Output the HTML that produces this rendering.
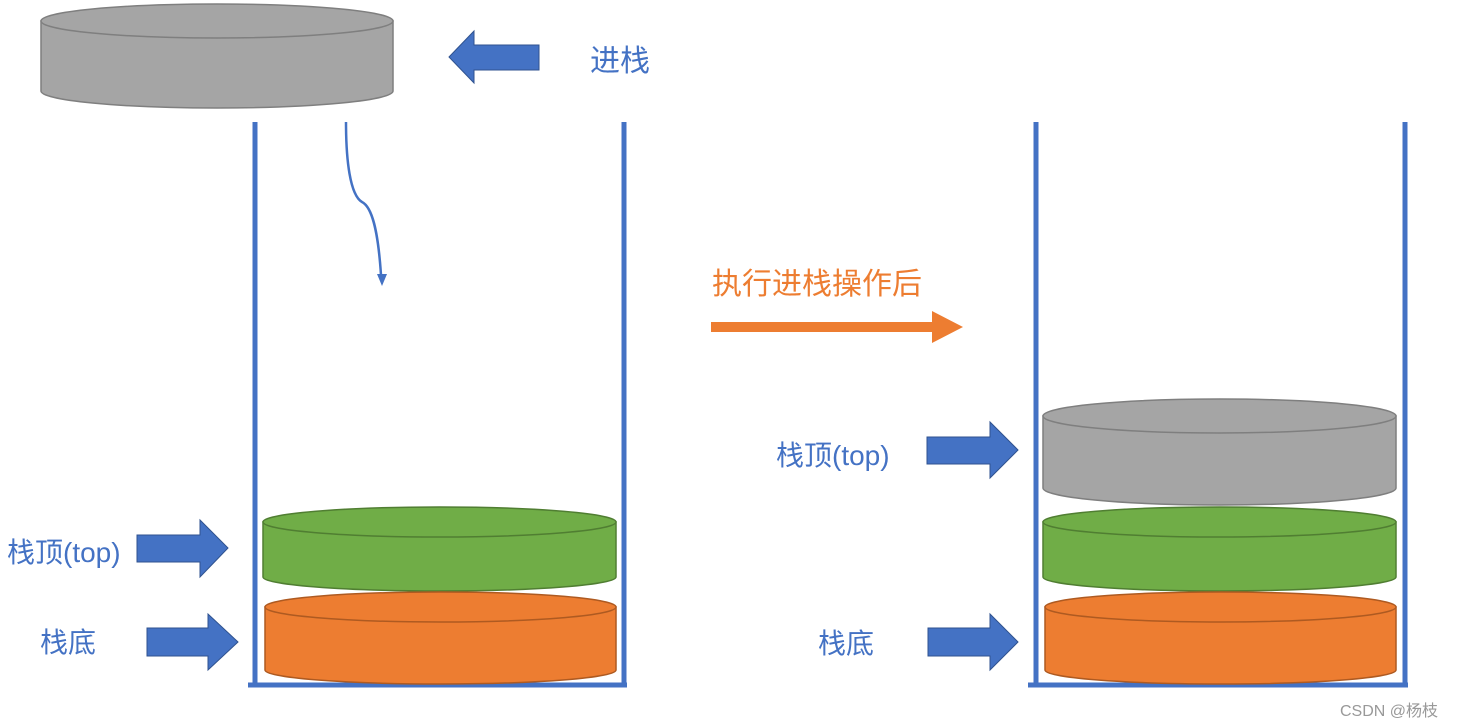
<!DOCTYPE html>
<html><head><meta charset="utf-8"><style>
html,body{margin:0;padding:0;background:#fff;}
svg{display:block;}
text{font-family:"Liberation Sans","Noto Sans CJK SC",sans-serif;}
</style></head><body>
<svg width="1467" height="728" viewBox="0 0 1467 728" xmlns="http://www.w3.org/2000/svg">
<defs>
<g id="cyl"></g>
</defs>
<!-- top gray cylinder -->
<path d="M41,21 L41,91 A176,17 0 0 0 393,91 L393,21 Z" fill="#a5a5a5" stroke="#7f7f7f" stroke-width="1.5"/>
<ellipse cx="217" cy="21" rx="176" ry="17" fill="#a5a5a5" stroke="#7f7f7f" stroke-width="1.5"/>
<!-- left arrow -->
<polygon points="449,57 474,31 474,45 539,45 539,70 474,70 474,83" fill="#4472c4" stroke="#2f528f" stroke-width="1"/>
<text x="590" y="71" font-size="30" fill="#4472c4">进栈</text>

<!-- left container -->
<g stroke="#4472c4" stroke-width="5" fill="none">
<line x1="255" y1="122" x2="255" y2="687"/>
<line x1="624" y1="122" x2="624" y2="687"/>
<line x1="248" y1="685" x2="627" y2="685"/>
<line x1="1036" y1="122" x2="1036" y2="687"/>
<line x1="1405" y1="122" x2="1405" y2="687"/>
<line x1="1028" y1="685" x2="1408" y2="685"/>
</g>
<!-- curvy arrow -->
<path d="M346,122 C346,160 350,195 362,202 C372,207 378,230 381,275" stroke="#4472c4" stroke-width="2.5" fill="none"/>
<polygon points="377,274 387,274 382,286" fill="#4472c4"/>

<!-- left green -->
<path d="M263,522 L263,577 A176.5,14 0 0 0 616,577 L616,522 Z" fill="#70ad47" stroke="#507e32" stroke-width="1.5"/>
<ellipse cx="439.5" cy="522" rx="176.5" ry="15" fill="#70ad47" stroke="#507e32" stroke-width="1.5"/>
<!-- left orange -->
<path d="M265,607 L265,670 A175.5,14 0 0 0 616,670 L616,607 Z" fill="#ed7d31" stroke="#ae5a21" stroke-width="1.5"/>
<ellipse cx="440.5" cy="607" rx="175.5" ry="15" fill="#ed7d31" stroke="#ae5a21" stroke-width="1.5"/>

<polygon points="137,535 200,535 200,520 228,548 200,577 200,562 137,562" fill="#4472c4" stroke="#2f528f"/>
<text x="7" y="562" font-size="28" fill="#4472c4">栈顶(top)</text>
<polygon points="147,628 208,628 208,614 238,642 208,670 208,656 147,656" fill="#4472c4" stroke="#2f528f"/>
<text x="40" y="652" font-size="28" fill="#4472c4">栈底</text>

<!-- middle -->
<text x="712" y="294" font-size="30" fill="#ed7d31">执行进栈操作后</text>
<polygon points="711,322 932,322 932,311 963,327 932,343 932,332 711,332" fill="#ed7d31"/>

<!-- right gray -->
<path d="M1043,416 L1043,488 A176.5,17 0 0 0 1396,488 L1396,416 Z" fill="#a5a5a5" stroke="#7f7f7f" stroke-width="1.5"/>
<ellipse cx="1219.5" cy="416" rx="176.5" ry="17" fill="#a5a5a5" stroke="#7f7f7f" stroke-width="1.5"/>
<!-- right green -->
<path d="M1043,522 L1043,577 A176.5,14 0 0 0 1396,577 L1396,522 Z" fill="#70ad47" stroke="#507e32" stroke-width="1.5"/>
<ellipse cx="1219.5" cy="522" rx="176.5" ry="15" fill="#70ad47" stroke="#507e32" stroke-width="1.5"/>
<!-- right orange -->
<path d="M1045,607 L1045,670 A175.5,14 0 0 0 1396,670 L1396,607 Z" fill="#ed7d31" stroke="#ae5a21" stroke-width="1.5"/>
<ellipse cx="1220.5" cy="607" rx="175.5" ry="15" fill="#ed7d31" stroke="#ae5a21" stroke-width="1.5"/>

<polygon points="927,437 990,437 990,422 1018,450 990,478 990,464 927,464" fill="#4472c4" stroke="#2f528f"/>
<text x="776" y="465" font-size="28" fill="#4472c4">栈顶(top)</text>
<polygon points="928,628 990,628 990,614 1018,642 990,670 990,656 928,656" fill="#4472c4" stroke="#2f528f"/>
<text x="818" y="653" font-size="28" fill="#4472c4">栈底</text>

<text x="1340" y="716" font-size="16" fill="#999">CSDN @杨枝</text>
</svg>
</body></html>
